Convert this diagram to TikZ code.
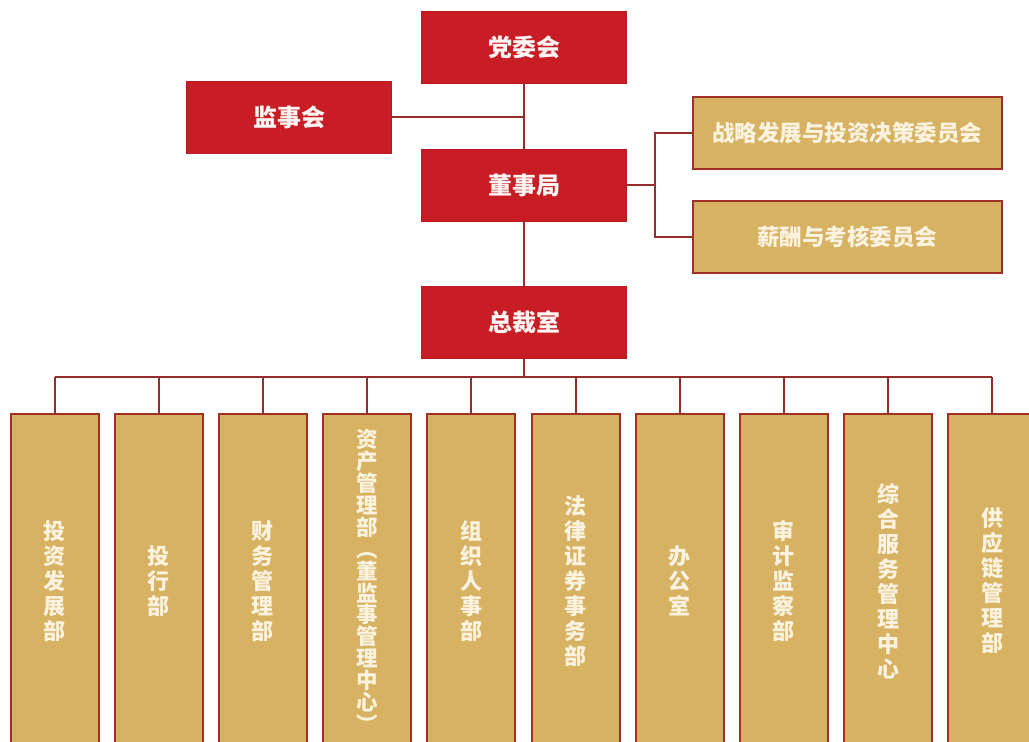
\documentclass[tikz,border=0pt]{standalone}
\usepackage{fontspec}
\newfontfamily\cjk{Noto Sans CJK SC}
\definecolor{boxred}{RGB}{201,29,37}
\definecolor{boxredline}{RGB}{180,28,34}
\definecolor{boxgold}{RGB}{214,178,98}
\definecolor{goldline}{RGB}{158,48,38}
\definecolor{linkred}{RGB}{150,44,44}
\definecolor{creamtext}{RGB}{251,243,224}
\definecolor{redtext}{RGB}{255,246,244}
\tikzset{
  redbox/.style={draw=boxredline, line width=1pt, fill=boxred, minimum width=205pt, minimum height=72pt, inner sep=0pt, text=redtext, font={\cjk\bfseries\fontsize{24}{28}\selectfont}},
  goldwide/.style={draw=goldline, line width=2pt, fill=boxgold, minimum width=309pt, minimum height=72pt, inner sep=0pt, text=creamtext, font={\cjk\bfseries\fontsize{22.5}{26}\selectfont}},
  goldcol/.style={draw=goldline, line width=2pt, fill=boxgold, minimum width=88pt, minimum height=334pt, inner sep=0pt, text=creamtext, align=center, font={\cjk\bfseries\fontsize{22}{25}\selectfont}},
  link/.style={draw=linkred, line width=2pt}
}
\begin{document}
\begin{tikzpicture}[x=1pt,y=-1pt]
\useasboundingbox (0,0) rectangle (1029,742);
\fill[white] (0,0) rectangle (1029,742);
\clip (0,0) rectangle (1029,742);
% top level
\node[redbox] (dwh) at (524,47) {党委会};
\node[redbox] (jsh) at (289,117) {监事会};
\node[redbox] (dsj) at (524,185) {董事局};
\node[redbox] (zcs) at (524,322.5) {总裁室};
\node[goldwide] (c1) at (847,132.5) {战略发展与投资决策委员会};
\node[goldwide] (c2) at (847,236.5) {薪酬与考核委员会};
% departments
\node[goldcol] (b1) at (54.5,581) {投\\资\\发\\展\\部};
\node[goldcol] (b2) at (158.7,581) {投\\行\\部};
\node[goldcol] (b3) at (262.9,581) {财\\务\\管\\理\\部};
\node[goldcol, font={\cjk\bfseries\fontsize{21.5}{21.9}\selectfont}] (b4) at (367.1,581) {资\\产\\管\\理\\部\\︵\\董\\监\\事\\管\\理\\中\\心\\︶};
\node[goldcol] (b5) at (471.3,581) {组\\织\\人\\事\\部};
\node[goldcol] (b6) at (575.5,581) {法\\律\\证\\券\\事\\务\\部};
\node[goldcol] (b7) at (679.7,581) {办\\公\\室};
\node[goldcol] (b8) at (783.9,581) {审\\计\\监\\察\\部};
\node[goldcol] (b9) at (888.1,581) {综\\合\\服\\务\\管\\理\\中\\心};
\node[goldcol] (b10) at (992.3,581) {供\\应\\链\\管\\理\\部};
% connectors
\coordinate (rb) at (655,185);
\coordinate (bus) at (524,377);
\draw[link] (dwh.south) -- (dsj.north);
\draw[link] (jsh.east) -- (jsh.east -| dwh.south);
\draw[link] (dsj.south) -- (zcs.north);
\draw[link] (dsj.east) -- (rb);
\draw[link] (c1.west) -| (rb) |- (c2.west);
\draw[link] (zcs.south) -- (bus);
\draw[link] (b1.north |- bus) -- (b10.north |- bus);
\foreach \b in {b1,b2,b3,b4,b5,b6,b7,b8,b9,b10}{
  \draw[link] (\b.north) -- (\b.north |- bus);
}
\end{tikzpicture}
\end{document}
